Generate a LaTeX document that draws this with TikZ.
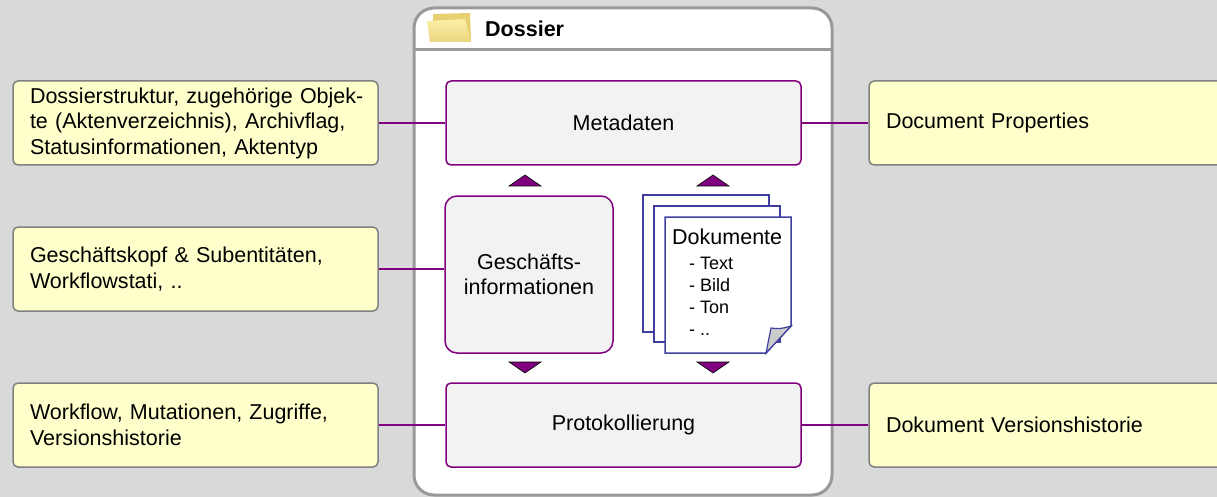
\documentclass[tikz,border=0pt]{standalone}
\usepackage{fontspec}
\setmainfont{Liberation Sans}
\definecolor{hintergrund}{HTML}{D9D9D9}
\definecolor{notizfill}{HTML}{FFFFCC}
\definecolor{notizrand}{HTML}{808080}
\definecolor{lila}{HTML}{800080}
\definecolor{teilfill}{HTML}{F2F2F2}
\definecolor{dossierrand}{HTML}{999999}
\definecolor{blattrand}{HTML}{3F3FA0}
\definecolor{ordnerhell}{HTML}{FBEFA8}
\definecolor{ordnerdunkel}{HTML}{E8D070}
\begin{document}
\begin{tikzpicture}[x=1pt,y=-1pt,
	font=\fontsize{21.5}{25.5}\selectfont,
	notiz/.style={draw=notizrand, fill=notizfill, line width=1.5pt, rounded corners=5pt, align=left, text width=331pt, inner xsep=17pt, inner ysep=0pt, minimum height=84pt},
	teil/.style={draw=lila, fill=teilfill, line width=1.5pt, rounded corners=5pt, minimum width=355pt, minimum height=84pt},
	link/.style={draw=lila, line width=2pt},
	marke/.style={fill=lila, draw=black, line width=0.6pt},
	blatt/.style={draw=blattrand, fill=white, line width=1.5pt}]
	\useasboundingbox (0,0) rectangle (1217,497);
	\clip (0,0) rectangle (1217,497);
	\fill[hintergrund] (0,0) rectangle (1217,497);
	\filldraw[fill=white, draw=dossierrand, line width=3pt, rounded corners=20pt] (414,8) rectangle (832,495);
	\draw[dossierrand, line width=3pt] (414,50) -- (832,50);
	\fill[ordnerdunkel] (433,14) -- (470,13) -- (471,41) -- (433,41) -- cycle;
	\shade[top color=ordnerhell, bottom color=ordnerdunkel!90] (427,21) -- (465,19) -- (471,42) -- (430,42) -- cycle;
	\node[anchor=west, inner sep=0pt, font=\fontsize{21.5}{25.5}\selectfont\bfseries] (titel) at (485,29) {Dossier};
	\node[teil] (meta) at (623.5,123) {Metadaten};
	\node[teil, minimum width=168pt, minimum height=157pt, rounded corners=12pt, align=center] (geschaeft) at (529,274.5) {Gesch\"afts-\\informationen};
	\node[teil] (protokoll) at (623.5,425) {Protokollierung};
	\draw[blatt] (643,195) rectangle (769,332);
	\draw[blatt] (654,206) rectangle (780,342);
	\draw[blatt] (665,217) -- (791,217) -- (791,326) -- (766,353) -- (665,353) -- cycle;
	\filldraw[fill=gray!40, draw=blattrand, line width=1.2pt] (766,353) .. controls (769,340) .. (771,328) .. controls (780,329) .. (791,326) -- cycle;
	\node[anchor=west, inner sep=0pt] (dokumente) at (672,237) {Dokumente};
	\node[anchor=north west, inner sep=0pt, align=left, font=\fontsize{18}{22}\selectfont] (inhalt) at (689,257) {- Text\\- Bild\\- Ton\\- ..};
	\filldraw[marke] (509,186) -- (541,186) -- (525,175) -- cycle;
	\filldraw[marke] (697,186) -- (729,186) -- (713,175) -- cycle;
	\filldraw[marke] (509,362) -- (541,362) -- (525,373) -- cycle;
	\filldraw[marke] (697,362) -- (729,362) -- (713,373) -- cycle;
	\node[notiz] (struktur) at (195.5,123) {\mbox{Dossierstruktur, zugeh\"orige Objek-}\\te (Aktenverzeichnis), Archivflag,\\Statusinformationen, Aktentyp};
	\node[notiz] (kopf) at (195.5,269) {Gesch\"aftskopf \& Subentit\"aten,\\Workflowstati, ..};
	\node[notiz] (verlauf) at (195.5,425) {Workflow, Mutationen, Zugriffe,\\Versionshistorie};
	\node[notiz] (properties) at (1051.5,123) {Document Properties};
	\node[notiz] (versionen) at (1051.5,425) {Dokument Versionshistorie};
	\draw[link] (struktur.east) -- (meta.west);
	\draw[link] (kopf.east) -- (geschaeft.west |- kopf.east);
	\draw[link] (verlauf.east) -- (protokoll.west);
	\draw[link] (meta.east) -- (properties.west);
	\draw[link] (protokoll.east) -- (versionen.west);
\end{tikzpicture}
\end{document}
